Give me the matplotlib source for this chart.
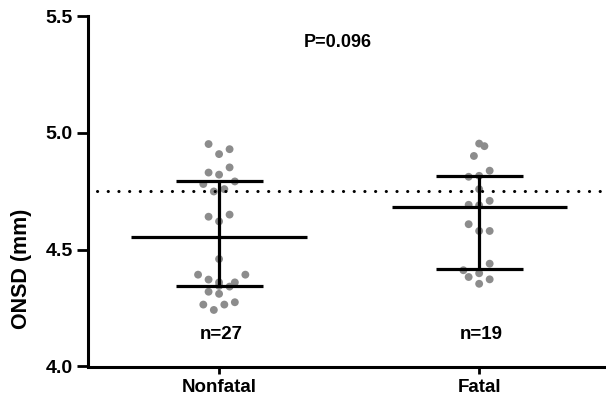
import matplotlib
matplotlib.use("Agg")
import matplotlib.pyplot as plt

plt.rcParams['font.family'] = ['Liberation Sans', 'DejaVu Sans']
plt.rcParams['font.weight'] = 'bold'

# ---- data ----
categories = ["Nonfatal", "Fatal"]
group_n = ["n=27", "n=19"]

nonfatal_vals = [4.952, 4.930, 4.909, 4.852, 4.830, 4.821, 4.781, 4.792, 4.749,
                 4.759, 4.641, 4.650, 4.621, 4.460, 4.393, 4.393, 4.372, 4.360,
                 4.360, 4.342, 4.320, 4.311, 4.265, 4.242, 4.265, 4.275, 4.345]
nonfatal_slot = [-1, 1, 0, 1, -1, 0, -1.5, 1.5, -0.5, 0.5, -1, 1, 0, 0, -2, 2.5,
                 -1, 0, 1.5, 1, -1, 0, -1.5, -0.5, 0.5, 1.5, 0]

fatal_vals = [4.954, 4.943, 4.901, 4.838, 4.812, 4.816, 4.759, 4.709, 4.692,
              4.609, 4.580, 4.580, 4.440, 4.412, 4.399, 4.383, 4.373, 4.354, 4.690]
fatal_slot = [0, 0.5, -0.5, 1, -1, 0, 0, 1, -1, -1, 0, 1, 1, -1.5, 0, -1, 1, 0, 0]

means = [4.555, 4.684]
upper_sd = [4.795, 4.817]
lower_sd = [4.345, 4.416]

cutoff = 4.75
p_text = "P=0.096"
yticks = [4.0, 4.5, 5.0, 5.5]

# ---- figure ----
fig = plt.figure(figsize=(6.06, 4.03), dpi=100)
ax = fig.add_axes([88/606, 1 - 366.5/403, 516/606, 350.5/403])

slot_w = 0.0404
groups = [(nonfatal_vals, nonfatal_slot), (fatal_vals, fatal_slot)]
for i, (vals, slots) in enumerate(groups):
    xs = [i + s * slot_w for s in slots]
    ax.scatter(xs, vals, s=32, color='#8c8c8c', edgecolors='none', zorder=2)

# dotted cutoff line
ax.plot([-0.469, 1.48], [cutoff, cutoff], color='black', lw=2.2,
        linestyle=(0, (0.05, 3.45)), dash_capstyle='round', zorder=3)

for i in range(2):
    ax.plot([i - 0.337, i + 0.337], [means[i], means[i]], color='black', lw=2.3, zorder=4,
            solid_capstyle='butt')
    ax.plot([i, i], [lower_sd[i], upper_sd[i]], color='black', lw=2.3, zorder=4,
            solid_capstyle='butt')
    for v in (lower_sd[i], upper_sd[i]):
        ax.plot([i - 0.167, i + 0.167], [v, v], color='black', lw=2.3, zorder=4,
                solid_capstyle='butt')
    ax.text(i + 0.007, 4.135, group_n[i], ha='center', va='center', fontsize=13.5,
            fontweight='bold')

ax.text(0.458, 5.385, p_text, ha='center', va='center', fontsize=13, fontweight='bold')

ax.set_xlim(-0.504, 1.48)
ax.set_ylim(4.0, 5.5)
ax.set_xticks([0, 1])
ax.set_xticklabels(categories, fontsize=13.5, fontweight='bold')
ax.set_yticks(yticks)
ax.set_yticklabels([f"{t:.1f}" for t in yticks], fontsize=14, fontweight='bold')
ax.tick_params(axis='y', length=8, width=2, pad=3)
ax.tick_params(axis='x', length=5, width=2, pad=4)

for s in ('top', 'right'):
    ax.spines[s].set_visible(False)
for s in ('left', 'bottom'):
    ax.spines[s].set_linewidth(2.2)

ax.set_ylabel("ONSD (mm)", fontsize=15.5, fontweight='bold', va='center', ha='center')
ax.yaxis.set_label_coords(-0.128, 0.278)

fig.savefig("out.png", dpi=100)
